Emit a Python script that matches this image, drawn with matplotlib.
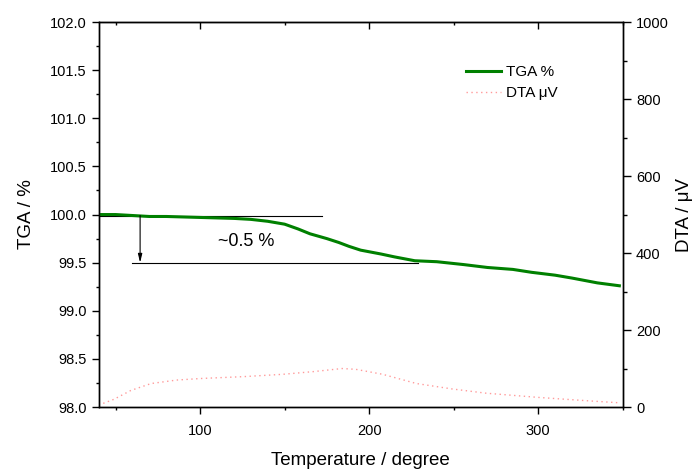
import matplotlib
matplotlib.use("Agg")
import matplotlib.pyplot as plt
from matplotlib.ticker import MultipleLocator

plt.rcParams['font.family'] = ['Liberation Sans', 'DejaVu Sans']

# TGA data (temperature / degree, TGA %)
tga_temp = [40, 50, 60, 70, 80, 100, 120, 130, 140, 150, 158, 165, 175, 182, 188,
            195, 207, 215, 227, 240, 256, 270, 285, 296, 310, 320, 335, 348]
tga_val = [100.00, 100.00, 99.99, 99.98, 99.98, 99.97, 99.96, 99.95, 99.93, 99.90,
           99.85, 99.80, 99.75, 99.71, 99.67, 99.63, 99.59, 99.56, 99.52, 99.51,
           99.48, 99.45, 99.43, 99.40, 99.37, 99.34, 99.29, 99.26]

# DTA data (temperature / degree, DTA uV)
dta_temp = [40, 49, 59, 71, 86, 100, 126, 149, 167, 184, 192, 208, 228, 249,
            269, 300, 330, 348]
dta_val = [5, 20, 43, 61, 70, 74, 79, 85, 92, 100, 98, 85, 61, 47, 36, 25, 16, 11]

fig = plt.figure(figsize=(6.95, 4.70), dpi=100)
ax = fig.add_axes([0.142, 0.134, 0.754, 0.819])

ax.plot(tga_temp, tga_val, color='#008000', lw=2.2, label='TGA %', zorder=3)
ax.set_xlim(40, 350)
ax.set_ylim(98.0, 102.0)
ax.xaxis.set_major_locator(MultipleLocator(100))
ax.xaxis.set_minor_locator(MultipleLocator(50))
ax.yaxis.set_major_locator(MultipleLocator(0.5))
ax.yaxis.set_minor_locator(MultipleLocator(0.25))
ax.yaxis.set_major_formatter(matplotlib.ticker.FormatStrFormatter('%.1f'))
ax.tick_params(axis='both', which='major', direction='out', length=5, width=1,
               labelsize=10.5)
ax.tick_params(axis='both', which='minor', direction='out', length=2.5, width=1)
ax.tick_params(axis='x', which='major', pad=7.5)
ax.tick_params(axis='y', which='both', right=False)
ax.set_xlabel('Temperature / degree', fontsize=13.5, labelpad=10)
ax.set_ylabel('TGA / %', fontsize=13.5, labelpad=11)

# annotation
ax.plot([40, 172], [99.99, 99.99], color='black', lw=0.8, zorder=2)
ax.plot([60, 229], [99.5, 99.5], color='black', lw=0.8, zorder=2)
ax.annotate('', xy=(64.5, 99.5), xytext=(64.5, 99.99),
            arrowprops=dict(arrowstyle='-|>,head_width=0.12,head_length=0.5',
                            color='black', lw=0.8, shrinkA=0, shrinkB=0))
ax.text(127, 99.72, '~0.5 %', fontsize=13, ha='center', va='center')

top = ax.secondary_xaxis('top')
top.xaxis.set_major_locator(MultipleLocator(100))
top.xaxis.set_minor_locator(MultipleLocator(50))
top.tick_params(which='major', direction='in', length=5, width=1, labeltop=False)
top.tick_params(which='minor', direction='in', length=2.5, width=1)

ax2 = ax.twinx()
ax2.plot(dta_temp, dta_val, color='#ff9a9a', lw=1.0, ls=(0, (1, 2.5)),
         label='DTA \u03bcV')
ax2.set_ylim(0, 1000)
ax2.yaxis.set_major_locator(MultipleLocator(200))
ax2.yaxis.set_minor_locator(MultipleLocator(100))
ax2.tick_params(axis='y', which='major', direction='out', length=6, width=1,
                labelsize=10.5)
ax2.tick_params(axis='y', which='minor', direction='out', length=3, width=1)
ax2.set_ylabel('DTA / \u03bcV', fontsize=13.5, labelpad=5)

for a in (ax, ax2):
    for s in a.spines.values():
        s.set_linewidth(1)

h1, l1 = ax.get_legend_handles_labels()
h2, l2 = ax2.get_legend_handles_labels()
ax2.legend(h1[:1] + h2, l1[:1] + l2, loc='upper left',
           bbox_to_anchor=(466 / 695, 1 - 65 / 470), bbox_transform=fig.transFigure,
           frameon=False, fontsize=11, handlelength=2.3, handletextpad=0.3,
           borderpad=0, borderaxespad=0, labelspacing=0.45)

fig.savefig('out.png', dpi=100)
